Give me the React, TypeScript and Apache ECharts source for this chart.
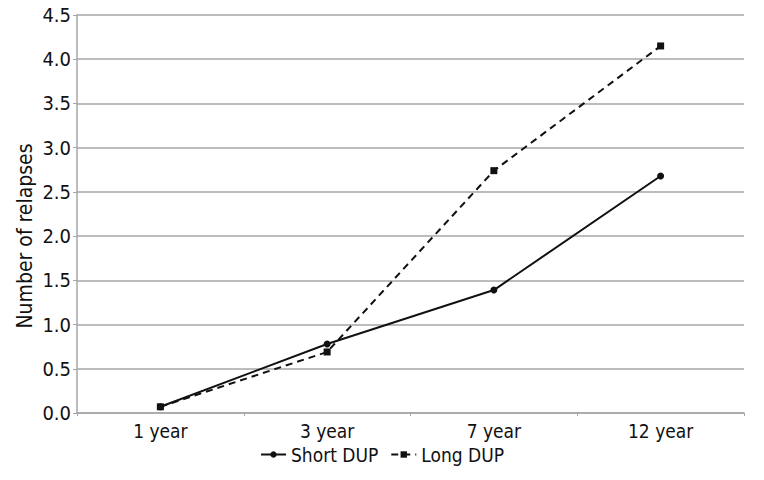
import React, { useEffect, useRef } from "react";
import * as echarts from "echarts";

const categories = ["1 year", "3 year", "7 year", "12 year"];
const shortDUP = [0.07, 0.78, 1.39, 2.68];
const longDUP = [0.07, 0.69, 2.74, 4.15];
const yAxisName = "Number of relapses";

const FONT = "'DejaVu Sans Condensed', 'Liberation Sans Narrow', sans-serif";

export default function App() {
  const ref = useRef<HTMLDivElement>(null);
  useEffect(() => {
    document.body.style.margin = "0";
    const chart = echarts.init(ref.current!, undefined, { renderer: "svg" });
    chart.setOption({
      animation: false,
      backgroundColor: "#ffffff",
      textStyle: { fontFamily: FONT },
      grid: { left: 77, right: 20, top: 15, bottom: 67, containLabel: false },
      legend: {
        bottom: 11,
        left: "center",
        itemWidth: 25,
        itemHeight: 8,
        itemGap: 12,
        textStyle: { fontFamily: FONT, fontSize: 19, color: "#111" },
        data: ["Short DUP", "Long DUP"],
      },
      xAxis: {
        type: "category",
        data: categories,
        boundaryGap: true,
        axisLine: { lineStyle: { color: "#a6a6a6", width: 1.5 } },
        axisTick: { show: true, length: 3, lineStyle: { color: "#a6a6a6" } },
        axisLabel: { fontFamily: FONT, fontSize: 19, color: "#111", margin: 8 },
      },
      yAxis: {
        type: "value",
        min: 0,
        max: 4.5,
        interval: 0.5,
        name: yAxisName,
        nameLocation: "middle",
        nameGap: 42,
        nameMoveOverlap: false,
        nameTextStyle: { fontFamily: FONT, fontSize: 21, color: "#111", padding: [0, 44, 0, 0] },
        axisLine: { show: true, lineStyle: { color: "#a6a6a6", width: 1.5 } },
        axisTick: { show: true, length: 4, lineStyle: { color: "#a6a6a6" } },
        splitLine: { lineStyle: { color: "#a6a6a6", width: 1.5 } },
        axisLabel: {
          fontFamily: FONT,
          fontSize: 20,
          color: "#111",
          margin: 6,
          formatter: (v: number) => v.toFixed(1),
        },
      },
      series: [
        {
          name: "Short DUP",
          type: "line",
          data: shortDUP,
          symbol: "circle",
          symbolSize: 7,
          lineStyle: { color: "#111", width: 2 },
          itemStyle: { color: "#111" },
        },
        {
          name: "Long DUP",
          type: "line",
          data: longDUP,
          symbol: "rect",
          symbolSize: 7,
          lineStyle: { color: "#111", width: 2, type: [7, 5] },
          itemStyle: { color: "#111" },
        },
      ],
    });
    return () => chart.dispose();
  }, []);
  return (
    <div
      ref={ref}
      style={{ position: "absolute", left: 0, top: 0, width: 764, height: 480 }}
    />
  );
}
